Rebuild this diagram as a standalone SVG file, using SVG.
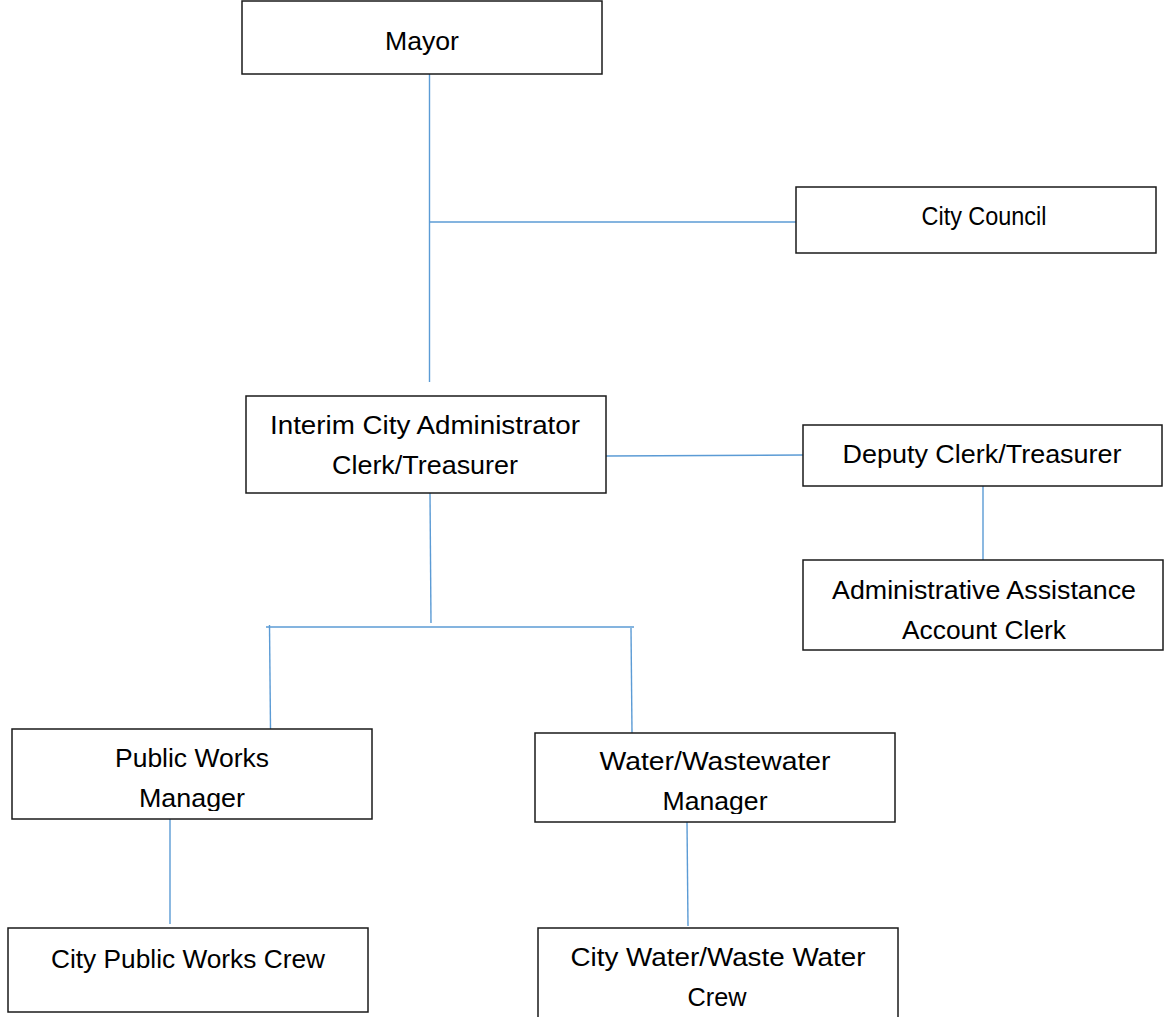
<svg xmlns="http://www.w3.org/2000/svg" width="1164" height="1017" viewBox="0 0 1164 1017">
<style>
.box{fill:#fff;stroke:#1a1a1a;stroke-width:1.5}
.lbl{font-family:"Liberation Sans",Arial,sans-serif;font-size:25px;fill:#000;text-anchor:middle}
.con{stroke:#5b9bd5;stroke-width:1.4;fill:none}
</style>
<defs>
<clipPath id="clipPW"><rect x="12" y="729" width="360" height="82"/></clipPath>
<clipPath id="clipWW"><rect x="535" y="733" width="360" height="81"/></clipPath>
</defs>
<rect width="1164" height="1017" fill="#fff"/>
<g id="connectors">
<line class="con" x1="429.5" y1="74" x2="429.5" y2="382"/>
<line class="con" x1="429.5" y1="222" x2="796" y2="222"/>
<line class="con" x1="606" y1="456" x2="803" y2="455"/>
<line class="con" x1="983" y1="486" x2="983" y2="563"/>
<line class="con" x1="430" y1="493" x2="431" y2="623"/>
<line class="con" x1="266" y1="627" x2="634" y2="627"/>
<line class="con" x1="269.5" y1="625" x2="270.5" y2="729"/>
<line class="con" x1="631" y1="628" x2="632" y2="733"/>
<line class="con" x1="170" y1="819" x2="170" y2="924"/>
<line class="con" x1="687" y1="822" x2="688" y2="926"/>
</g>
<g id="mayor">
<rect class="box" x="242" y="1" width="360" height="73"/>
<text class="lbl" x="422" y="50" textLength="74" lengthAdjust="spacingAndGlyphs">Mayor</text>
</g>
<g id="city-council">
<rect class="box" x="796" y="187" width="360" height="66"/>
<text class="lbl" x="984" y="225" textLength="125" lengthAdjust="spacingAndGlyphs">City Council</text>
</g>
<g id="interim-admin">
<rect class="box" x="246" y="396" width="360" height="97"/>
<text class="lbl" x="425" y="434" textLength="310" lengthAdjust="spacingAndGlyphs">Interim City Administrator</text>
<text class="lbl" x="425" y="474" textLength="186" lengthAdjust="spacingAndGlyphs">Clerk/Treasurer</text>
</g>
<g id="deputy-clerk">
<rect class="box" x="803" y="425" width="359" height="61"/>
<text class="lbl" x="982" y="463" textLength="279" lengthAdjust="spacingAndGlyphs">Deputy Clerk/Treasurer</text>
</g>
<g id="admin-assistance">
<rect class="box" x="803" y="560" width="360" height="90"/>
<text class="lbl" x="984" y="599" textLength="304" lengthAdjust="spacingAndGlyphs">Administrative Assistance</text>
<text class="lbl" x="984" y="639" textLength="164" lengthAdjust="spacingAndGlyphs">Account Clerk</text>
</g>
<g id="public-works-manager">
<rect class="box" x="12" y="729" width="360" height="90"/>
<g clip-path="url(#clipPW)">
<text class="lbl" x="192" y="767" textLength="154" lengthAdjust="spacingAndGlyphs">Public Works</text>
<text class="lbl" x="192" y="807" textLength="106" lengthAdjust="spacingAndGlyphs">Manager</text>
</g>
</g>
<g id="water-manager">
<rect class="box" x="535" y="733" width="360" height="89"/>
<g clip-path="url(#clipWW)">
<text class="lbl" x="715" y="770" textLength="231" lengthAdjust="spacingAndGlyphs">Water/Wastewater</text>
<text class="lbl" x="715" y="810" textLength="105" lengthAdjust="spacingAndGlyphs">Manager</text>
</g>
</g>
<g id="public-works-crew">
<rect class="box" x="8" y="928" width="360" height="84"/>
<text class="lbl" x="188" y="968" textLength="274" lengthAdjust="spacingAndGlyphs">City Public Works Crew</text>
</g>
<g id="water-crew">
<rect class="box" x="538" y="928" width="360" height="100"/>
<text class="lbl" x="718" y="966" textLength="295" lengthAdjust="spacingAndGlyphs">City Water/Waste Water</text>
<text class="lbl" x="717" y="1006" textLength="59" lengthAdjust="spacingAndGlyphs">Crew</text>
</g>
</svg>
